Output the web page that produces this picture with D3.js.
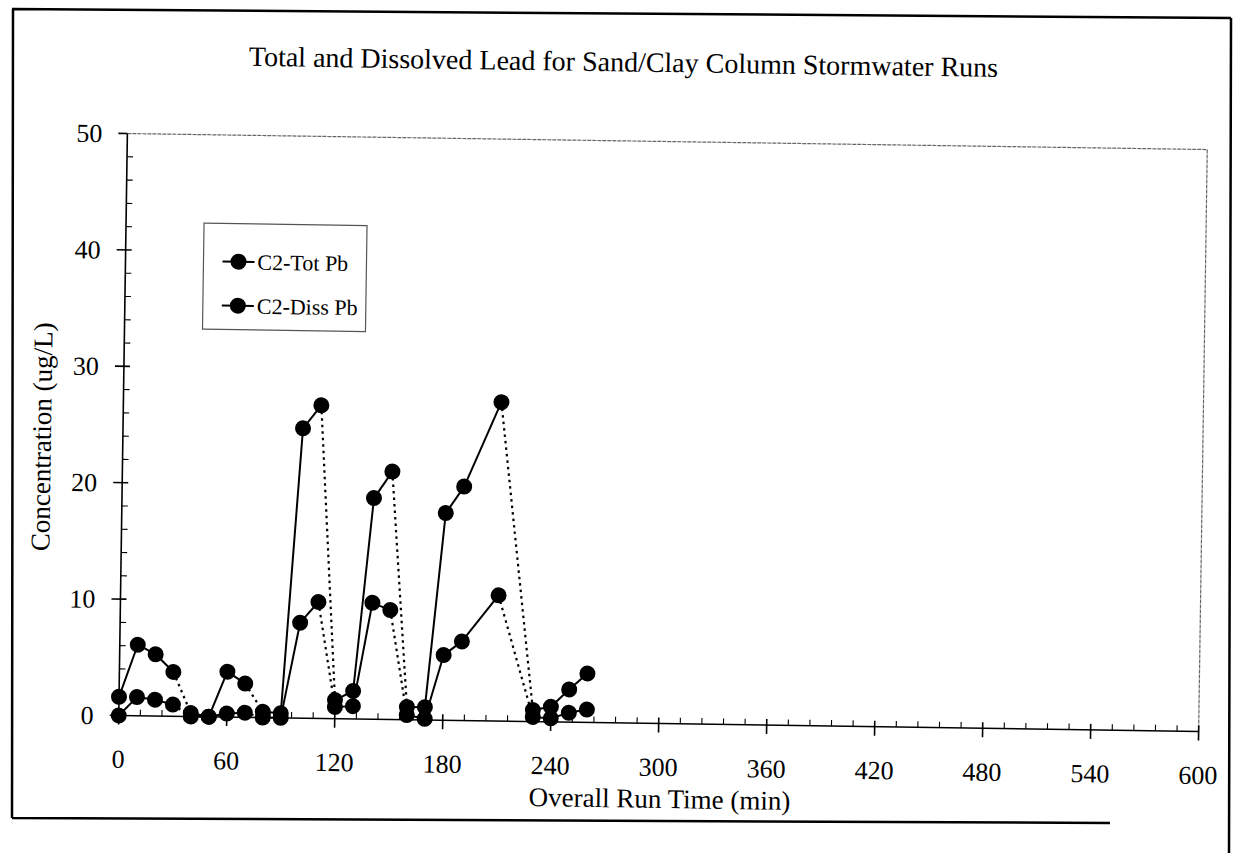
<!DOCTYPE html>
<html>
<head>
<meta charset="utf-8">
<script src="https://cdn.jsdelivr.net/npm/d3@7"></script>
<style>
  body { margin: 0; background: #fff; }
  text { font-family: "Liberation Serif", "Times New Roman", serif; fill: #000; }
</style>
</head>
<body>
<div id="chart"></div>
<script>
// data
var runTime = [0, 10, 20, 30, 40, 50, 60, 70, 80, 90, 100, 110, 120, 130, 140, 150, 160, 170, 180, 190, 210, 230, 240, 250, 260];
var runId   = [1, 1, 1, 1, 2, 2, 2, 2, 3, 3, 3, 3, 4, 4, 4, 4, 5, 5, 5, 5, 5, 6, 6, 6, 6];
var totPb   = [1.6, 6.1, 5.3, 3.8, 0.3, 0.0, 3.9, 2.9, 0.5, 0.4, 24.9, 26.9, 1.6, 2.4, 19.0, 21.3, 1.1, 1.1, 17.8, 20.1, 27.4, 1.0, 1.3, 2.8, 4.2];
var dissPb  = [0.0, 1.6, 1.4, 1.0, 0.0, 0.0, 0.3, 0.4, 0.0, 0.0, 8.2, 10.0, 1.0, 1.1, 10.0, 9.4, 0.4, 0.1, 5.6, 6.8, 10.8, 0.4, 0.3, 0.8, 1.1];
var seriesNames = ["C2-Tot Pb", "C2-Diss Pb"];
var xTicks = [0, 60, 120, 180, 240, 300, 360, 420, 480, 540, 600];
var yTicks = [0, 10, 20, 30, 40, 50];

var width = 1244,
    height = 853;

var svg = d3.select('#chart')
    .append('svg')
    .attr('width', width)
    .attr('height', height);

svg.append('rect').attr('width', width).attr('height', height).attr('fill', '#fff');

// outer border of the scanned page
svg.append('path')
    .attr('d', 'M12,9 L1231,18 M13,9 L12,818 M12,818 L1110,823 M1231,18 L1229,853')
    .attr('fill', 'none')
    .attr('stroke', '#000')
    .attr('stroke-width', 2.5);

// the scan is a little tilted
var g = svg.append('g').attr('transform', 'rotate(0.85,663,432.5)');

var x = d3.scaleLinear().domain([0, 600]).range([123, 1203]);
var y = d3.scaleLinear().domain([0, 50]).range([723.5, 141.5]);

// plot frame (top / right), faint
g.append('path')
    .attr('d', 'M' + x(0) + ',' + y(50) + ' L' + x(600) + ',' + y(50) + ' L' + x(600) + ',' + y(0))
    .attr('fill', 'none')
    .attr('stroke', '#666')
    .attr('stroke-width', 1.2)
    .attr('stroke-dasharray', '4,1');

// axes lines
g.append('line').attr('x1', x(0)).attr('x2', x(0)).attr('y1', y(50)).attr('y2', y(0))
    .attr('stroke', '#000').attr('stroke-width', 1.6);
g.append('line').attr('x1', x(0)).attr('x2', x(600)).attr('y1', y(0)).attr('y2', y(0))
    .attr('stroke', '#000').attr('stroke-width', 1.6);

// y ticks
g.selectAll('.ytick')
    .data(d3.range(0, 51, 2))
    .enter()
    .append('line')
    .attr('x1', function (d) { return d % 10 === 0 ? x(0) - 9 : x(0); })
    .attr('x2', function (d) { return d === 50 ? x(0) : x(0) + 6; })
    .attr('y1', function (d) { return y(d); })
    .attr('y2', function (d) { return y(d); })
    .attr('stroke', '#000')
    .attr('stroke-width', function (d) { return d % 10 === 0 ? 1.6 : 1.1; });

// x ticks
g.selectAll('.xtick')
    .data(d3.range(0, 601, 12))
    .enter()
    .append('line')
    .attr('x1', function (d) { return x(d); })
    .attr('x2', function (d) { return x(d); })
    .attr('y1', function (d) { return y(0) - 6; })
    .attr('y2', function (d) { return d % 60 === 0 ? y(0) + 9 : y(0); })
    .attr('stroke', '#000')
    .attr('stroke-width', function (d) { return d % 60 === 0 ? 1.6 : 1.1; });

g.selectAll('.ylabel')
    .data(yTicks)
    .enter()
    .append('text')
    .attr('x', x(0) - 25)
    .attr('y', function (d) { return y(d); })
    .attr('dy', '0.35em')
    .attr('text-anchor', 'end')
    .style('font-size', '26px')
    .text(function (d) { return d; });

g.selectAll('.xlabel')
    .data(xTicks)
    .enter()
    .append('text')
    .attr('x', function (d) { return x(d); })
    .attr('y', 776)
    .attr('text-anchor', 'middle')
    .style('font-size', '26px')
    .text(function (d) { return d; });

// titles
g.append('text')
    .attr('x', 618)
    .attr('y', 72)
    .attr('text-anchor', 'middle')
    .style('font-size', '28px')
    .text('Total and Dissolved Lead for Sand/Clay Column Stormwater Runs');

g.append('text')
    .attr('x', 665)
    .attr('y', 808)
    .attr('text-anchor', 'middle')
    .style('font-size', '27px')
    .text('Overall Run Time (min)');

g.append('text')
    .attr('transform', 'translate(51,446) rotate(-90)')
    .attr('text-anchor', 'middle')
    .style('font-size', '27px')
    .text('Concentration (ug/L)');

// series
var series = [totPb, dissPb];

series.forEach(function (vals) {
    var segs = [];
    for (var i = 0; i < vals.length - 1; i++) {
        segs.push({
            x1: runTime[i], y1: vals[i],
            x2: runTime[i + 1], y2: vals[i + 1],
            same: runId[i] === runId[i + 1]
        });
    }
    g.selectAll(null)
        .data(segs)
        .enter()
        .append('line')
        .attr('x1', function (d) { return x(d.x1); })
        .attr('y1', function (d) { return y(d.y1); })
        .attr('x2', function (d) { return x(d.x2); })
        .attr('y2', function (d) { return y(d.y2); })
        .attr('stroke', '#000')
        .attr('stroke-width', function (d) { return d.same ? 2 : 2.2; })
        .attr('stroke-dasharray', function (d) { return d.same ? null : '2.5,4'; });
});

series.forEach(function (vals) {
    g.selectAll(null)
        .data(vals)
        .enter()
        .append('circle')
        .attr('cx', function (d, i) { return x(runTime[i]); })
        .attr('cy', function (d) { return y(d); })
        .attr('r', 8)
        .attr('fill', '#000');
});

// legend
var legend = g.append('g');
legend.append('rect')
    .attr('x', 201).attr('y', 230)
    .attr('width', 163).attr('height', 106)
    .attr('fill', '#fff')
    .attr('stroke', '#555')
    .attr('stroke-width', 1.2);

var item = legend.selectAll('.item')
    .data(seriesNames)
    .enter()
    .append('g')
    .attr('transform', function (d, i) { return 'translate(236,' + (268 + i * 44) + ')'; });

item.append('line').attr('x1', -16).attr('x2', 16).attr('stroke', '#000').attr('stroke-width', 2);
item.append('circle').attr('r', 8).attr('fill', '#000');
item.append('text')
    .attr('x', 19)
    .attr('dy', '0.35em')
    .style('font-size', '22px')
    .text(function (d) { return d; });
</script>
</body>
</html>
